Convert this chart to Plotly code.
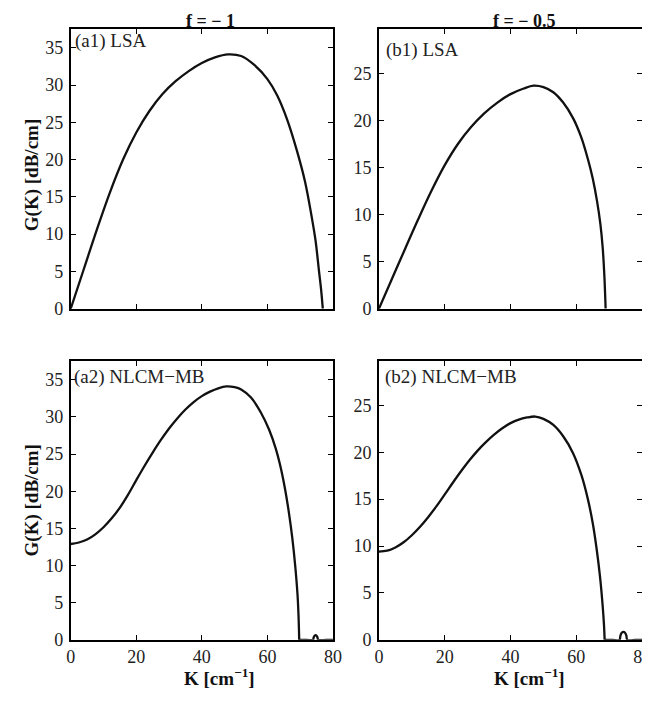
import plotly.graph_objects as go

# ---- data ----
# (a1) LSA, f = -1
a1_K = [0, 4, 8, 12, 16, 20, 24, 28, 32, 36, 40, 44, 48, 52, 56, 60, 63, 66, 69, 71.5, 73.4, 74.7, 75.7, 76.4, 76.9]
a1_G = [0, 5.32, 10.64, 15.64, 20.04, 23.64, 26.52, 28.8, 30.52, 31.88, 32.96, 33.72, 34.12, 33.9, 32.7, 30.8, 28.6, 25.4, 21.2, 17, 12.6, 9.1, 5.2, 2.5, 0]

# (b1) LSA, f = -0.5
b1_K = [0, 4, 8, 12, 16, 20, 24, 28, 32, 36, 40, 44, 47, 50, 53, 56, 59, 61.5, 63.5, 65, 66.3, 67.3, 68, 68.5, 68.9]
b1_G = [0, 3.2, 6.4, 9.55, 12.55, 15.25, 17.5, 19.3, 20.75, 21.9, 22.8, 23.4, 23.7, 23.55, 23.0, 21.9, 20.25, 18.2, 15.9, 13.8, 11.4, 9.0, 6.5, 3.6, 0]

# (a2) NLCM-MB, f = -1 : main lobe and the small side lobe
a2_K = [0, 2.5, 5, 7.5, 10, 12.5, 15, 17.5, 20, 22.5, 25, 27.5, 30, 32.5, 35, 37.5, 40, 42.5, 45, 47.5,
        50, 52, 55, 58, 60.5, 62.5, 64, 65.3, 66.5, 67.6, 68.5, 69.2, 69.5, 69.7]
a2_G = [12.9, 13.1, 13.5, 14.2, 15.15, 16.35, 17.8, 19.55, 21.5, 23.4, 25.2, 26.9, 28.45, 29.8, 31.0, 32.0, 32.8, 33.4, 33.85, 34.1,
        34.0, 33.7, 32.6, 30.6, 28.3, 25.8, 23.3, 20.5, 17.3, 13.7, 9.9, 6.0, 3.2, 0]
a2_tail_K = [69.7, 72, 73.9, 74.1, 74.4, 74.7, 75.0, 75.3, 75.5, 78, 80]
a2_tail_G = [0, 0, 0, 0.3, 0.55, 0.62, 0.55, 0.3, 0, 0, 0]

# (b2) NLCM-MB, f = -0.5
b2_K = [0, 2.5, 5, 7.5, 10, 12.5, 15, 17.5, 20, 22.5, 25, 27.5, 30, 32.5, 35, 37.5, 40, 42.5, 45, 47.5,
        50, 53, 56, 59, 61.5, 63.5, 65, 66.2, 67.2, 68, 68.4, 68.6]
b2_G = [9.4, 9.5, 9.85, 10.4, 11.15, 12.05, 13.1, 14.25, 15.5, 16.77, 17.99, 19.14, 20.17, 21.07, 21.87, 22.55, 23.1, 23.48, 23.7, 23.8,
        23.55, 22.9, 21.7, 19.9, 17.6, 15.0, 12.4, 9.6, 6.7, 3.6, 1.6, 0]
b2_tail_K = [68.6, 71, 73.1, 73.4, 73.8, 74.3, 74.8, 75.2, 75.5, 78, 80]
b2_tail_G = [0, 0, 0, 0.45, 0.75, 0.85, 0.75, 0.45, 0, 0, 0]

x_ticks = [0, 20, 40, 60, 80]
y_ticks_a = [0, 5, 10, 15, 20, 25, 30, 35]
y_ticks_b = [0, 5, 10, 15, 20, 25]

panel_labels = ["(a1) LSA", "(b1) LSA", "(a2) NLCM\u2212MB", "(b2) NLCM\u2212MB"]
col_titles = ["f = \u2212 1", "f = \u2212 0.5"]
y_title = "G(K) [dB/cm]"
x_title = "K [cm<sup>\u22121</sup>]"

W, H = 650, 701
FONT = "Liberation Serif, Times New Roman, serif"

def px_x(p):
    return p / W

def px_y(p):
    return 1 - p / H

fig = go.Figure()
line = dict(color="#111111", width=2.3, shape="spline", smoothing=1.0)
series = [
    (a1_K, a1_G, "x", "y"),
    (b1_K, b1_G, "x2", "y2"),
    (a2_K, a2_G, "x3", "y3"),
    (a2_tail_K, a2_tail_G, "x3", "y3"),
    (b2_K, b2_G, "x4", "y4"),
    (b2_tail_K, b2_tail_G, "x4", "y4"),
]
for k, g, xa, ya in series:
    fig.add_trace(go.Scatter(x=k, y=g, mode="lines", line=line, xaxis=xa, yaxis=ya,
                             showlegend=False, cliponaxis=True))

common = dict(showline=True, linecolor="black", linewidth=1.6, mirror="ticks",
              ticks="inside", ticklen=5, tickwidth=1.2, tickcolor="black",
              showgrid=False, zeroline=False,
              tickfont=dict(family=FONT, size=18, color="#222222"))

xl = [px_x(59), px_x(327)]
xr = [px_x(374), px_x(643)]
yt = [px_y(305), px_y(21.5)]
yb = [px_y(641), px_y(358.3)]

fig.update_layout(
    width=W, height=H,
    margin=dict(l=0, r=0, t=0, b=0),
    paper_bgcolor="white", plot_bgcolor="white",
    xaxis=dict(domain=xl, anchor="y", range=[0, 80], tickvals=x_ticks, showticklabels=False, **common),
    yaxis=dict(domain=yt, anchor="x", range=[0, 37.5], tickvals=y_ticks_a, ticklabelstandoff=2, **common),
    xaxis2=dict(domain=xr, anchor="y2", range=[0, 80], tickvals=x_ticks, showticklabels=False, **common),
    yaxis2=dict(domain=yt, anchor="x2", range=[0, 29.7], tickvals=y_ticks_b, ticklabelstandoff=2, **common),
    xaxis3=dict(domain=xl, anchor="y3", range=[0, 80], tickvals=x_ticks, ticklabelstandoff=0, **common),
    yaxis3=dict(domain=yb, anchor="x3", range=[0, 37.5], tickvals=y_ticks_a, ticklabelstandoff=2, **common),
    xaxis4=dict(domain=xr, anchor="y4", range=[0, 80], tickvals=x_ticks, ticklabelstandoff=0, **common),
    yaxis4=dict(domain=yb, anchor="x4", range=[0, 29.7], tickvals=y_ticks_b, ticklabelstandoff=2, **common),
)

ann = []
# panel labels
for txt, (lx, ly) in zip(panel_labels, [(61, 33.3), (379, 42.7), (60.5, 374), (378, 374)]):
    ann.append(dict(text=txt, x=px_x(lx), y=px_y(ly), xref="paper", yref="paper",
                    xanchor="left", yanchor="middle", showarrow=False,
                    font=dict(family=FONT, size=19, color="#222222")))
# column titles
for txt, cx in zip(col_titles, [201.7, 522.5]):
    ann.append(dict(text="<b>" + txt + "</b>", x=px_x(cx), y=px_y(12.7), xref="paper", yref="paper",
                    xanchor="center", yanchor="middle", showarrow=False,
                    font=dict(family=FONT, size=18, color="#111111")))
# y titles
for cy in [170, 500]:
    ann.append(dict(text="<b>" + y_title + "</b>", x=px_x(19), y=px_y(cy), xref="paper", yref="paper",
                    xanchor="center", yanchor="middle", showarrow=False, textangle=-90,
                    font=dict(family=FONT, size=19, color="#111111")))
# x titles
for cx in [211, 528.3]:
    ann.append(dict(text="<b>" + x_title + "</b>", x=px_x(cx), y=px_y(679), xref="paper", yref="paper",
                    xanchor="center", yanchor="middle", showarrow=False,
                    font=dict(family=FONT, size=19, color="#111111")))

fig.update_layout(annotations=ann)
fig.write_html("out.html")
